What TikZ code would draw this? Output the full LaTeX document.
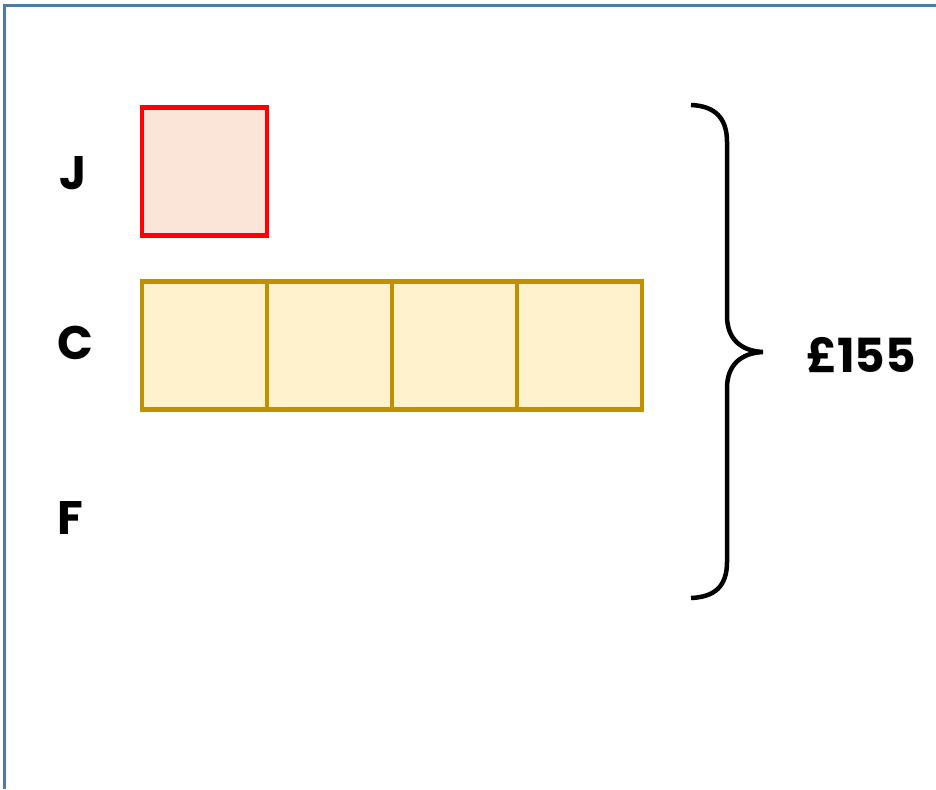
\documentclass[tikz,border=0pt]{standalone}
\usepackage{fontspec}
\setmainfont{Poppins}
\usetikzlibrary{positioning}

\definecolor{framecol}{RGB}{79,121,168}
\definecolor{jred}{RGB}{255,0,0}
\definecolor{jfill}{RGB}{250,229,216}
\definecolor{cgold}{RGB}{191,144,0}
\definecolor{cfill}{RGB}{255,242,204}

\tikzset{
  bar/.style={rectangle,minimum width=125pt,minimum height=128pt,inner sep=0pt,outer sep=0pt,line width=4.5pt},
  jbox/.style={bar,draw=jred,fill=jfill},
  cbox/.style={bar,draw=cgold,fill=cfill},
  lbl/.style={font=\fontsize{47}{50}\selectfont\bfseries,inner sep=0pt}
}

\begin{document}
\begin{tikzpicture}[x=1pt,y=-1pt]
\useasboundingbox (0,0) rectangle (936,789);
\draw[framecol,line width=3.5pt] (4.5,789) -- (4.5,5.5) -- (936,5.5);

% names on the left
\node[lbl] (jl) at (73,173) {J};
\node[lbl] (cl) at (75,343) {C};
\node[lbl] (fl) at (70,518) {F};

% bars
\node[jbox] (j1) at (204.5,171.5) {};
\node[cbox] (c1) at (204.5,345.5) {};
\node[cbox,right=0pt of c1] (c2) {};
\node[cbox,right=0pt of c2] (c3) {};
\node[cbox,right=0pt of c3] (c4) {};

% brace and total
\draw[line width=4.5pt] (691,105) .. controls (715,106) and (727,118) .. (727,142)
  -- (727,316) .. controls (727,338) and (740,351) .. (763,352)
  .. controls (740,353) and (727,366) .. (727,388)
  -- (727,562) .. controls (727,586) and (715,597) .. (691,598);
\node[lbl] (total) at (861,355) {£155};
\end{tikzpicture}
\end{document}
